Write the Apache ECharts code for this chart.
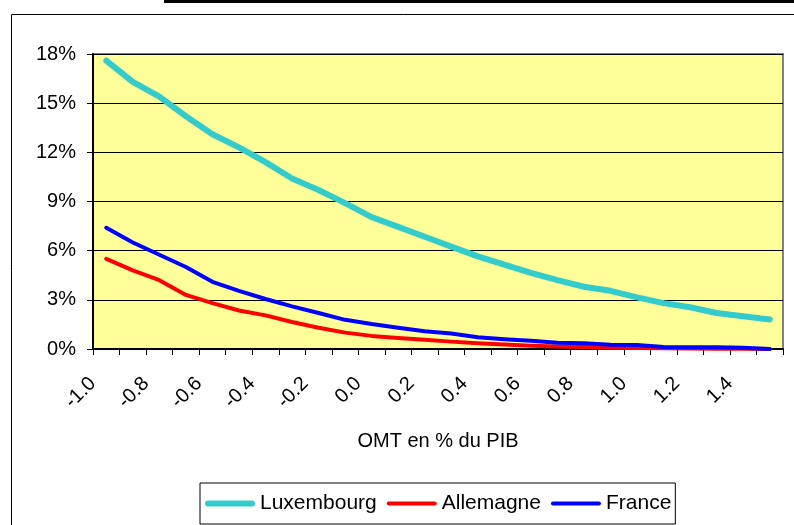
<!DOCTYPE html>
<html>
<head>
<meta charset="utf-8">
<script src="https://cdn.jsdelivr.net/npm/echarts@6/dist/echarts.min.js"></script>
<style>
  html, body { margin: 0; padding: 0; background: #fff; }
  #chart { width: 794px; height: 525px; }
</style>
</head>
<body>
<div id="chart"></div>
<script>
// OMT en % du PIB (x) vs share (%)
const categories = ['-1.0', '-0.9', '-0.8', '-0.7', '-0.6', '-0.5', '-0.4', '-0.3', '-0.2', '-0.1',
  '0.0', '0.1', '0.2', '0.3', '0.4', '0.5', '0.6', '0.7', '0.8', '0.9',
  '1.0', '1.1', '1.2', '1.3', '1.4', '1.5']

const luxembourg = [17.6, 16.3, 15.4, 14.2, 13.1, 12.3, 11.4, 10.4, 9.7, 8.9,
  8.05, 7.45, 6.85, 6.25, 5.65, 5.15, 4.65, 4.2, 3.8, 3.55,
  3.15, 2.8, 2.55, 2.2, 2.0, 1.8]

const allemagne = [5.5, 4.8, 4.2, 3.3, 2.8, 2.35, 2.05, 1.65, 1.3, 1.0,
  0.8, 0.67, 0.57, 0.45, 0.35, 0.27, 0.2, 0.15, 0.12, 0.08,
  0.06, 0.04, 0.03, 0.02, 0.01, 0.0]

const france = [7.4, 6.5, 5.75, 5.0, 4.1, 3.55, 3.05, 2.6, 2.2, 1.78,
  1.52, 1.3, 1.08, 0.95, 0.72, 0.6, 0.5, 0.38, 0.35, 0.26,
  0.25, 0.12, 0.1, 0.1, 0.08, 0.0]

const FONT = 'Liberation Sans, Arial, sans-serif'

// legend icons: plain strokes, no markers
const THICK_ICON = 'path://M3,0 L47,0 A3,3 0 0 1 47,6 L3,6 A3,3 0 0 1 3,0 Z'
const THIN_ICON = 'path://M2,0 L48,0 A2,2 0 0 1 48,4 L2,4 A2,2 0 0 1 2,0 Z'

const option = {
  animation: false,
  textStyle: { fontFamily: FONT, color: '#000' },
  graphic: [
    // outer chart frame
    {
      type: 'rect',
      shape: { x: 11.5, y: 14.5, width: 800, height: 600 },
      style: { fill: 'none', stroke: '#000', lineWidth: 1 },
      silent: true
    },
    // underline of the cropped title above
    {
      type: 'rect',
      shape: { x: 164, y: 0, width: 630, height: 3 },
      style: { fill: '#000' },
      silent: true
    }
  ],
  grid: {
    left: 93,
    right: 11,
    top: 54,
    bottom: 176,
    show: true,
    backgroundColor: '#FFFF99',
    borderColor: '#808080',
    borderWidth: 2
  },
  legend: {
    left: 200,
    top: 483,
    padding: [10, 4, 10, 5],
    borderColor: '#000',
    borderWidth: 1,
    itemGap: 10,
    itemWidth: 50,
    itemHeight: 6,
    symbolKeepAspect: true,
    textStyle: { fontFamily: FONT, fontSize: 21, color: '#000' },
    data: [
      { name: 'Luxembourg', icon: THICK_ICON },
      { name: 'Allemagne', icon: THIN_ICON },
      { name: 'France', icon: THIN_ICON }
    ]
  },
  xAxis: {
    type: 'category',
    data: categories,
    boundaryGap: true,
    name: 'OMT en % du PIB',
    nameLocation: 'middle',
    nameGap: 82,
    nameTextStyle: { fontFamily: FONT, fontSize: 20, color: '#000' },
    axisLine: { lineStyle: { color: '#000', width: 2 } },
    axisTick: { show: true, interval: 0, length: 6, lineStyle: { color: '#000', width: 1 } },
    axisLabel: {
      interval: 1,
      rotate: 45,
      margin: 18,
      padding: [0, 19, 0, 0],
      fontFamily: FONT,
      fontSize: 20,
      color: '#000'
    },
    splitLine: { show: false }
  },
  yAxis: {
    type: 'value',
    min: 0,
    max: 18,
    interval: 3,
    axisLine: { show: true, lineStyle: { color: '#000', width: 2 } },
    axisTick: { show: true, length: 6, lineStyle: { color: '#000', width: 1 } },
    axisLabel: {
      formatter: '{value}%',
      margin: 17,
      fontFamily: FONT,
      fontSize: 20,
      color: '#000'
    },
    splitLine: { show: true, lineStyle: { color: '#000', width: 1 } }
  },
  series: [
    {
      name: 'Luxembourg',
      type: 'line',
      data: luxembourg,
      symbol: 'none',
      lineStyle: { color: '#33CCCC', width: 6, cap: 'round', join: 'round' },
      itemStyle: { color: '#33CCCC' }
    },
    {
      name: 'Allemagne',
      type: 'line',
      data: allemagne,
      symbol: 'none',
      lineStyle: { color: '#FF0000', width: 4, cap: 'round', join: 'round' },
      itemStyle: { color: '#FF0000' }
    },
    {
      name: 'France',
      type: 'line',
      data: france,
      symbol: 'none',
      lineStyle: { color: '#0000FF', width: 4, cap: 'round', join: 'round' },
      itemStyle: { color: '#0000FF' }
    }
  ]
}

const myChart = echarts.init(document.getElementById('chart'))
myChart.setOption(option)
</script>
</body>
</html>
